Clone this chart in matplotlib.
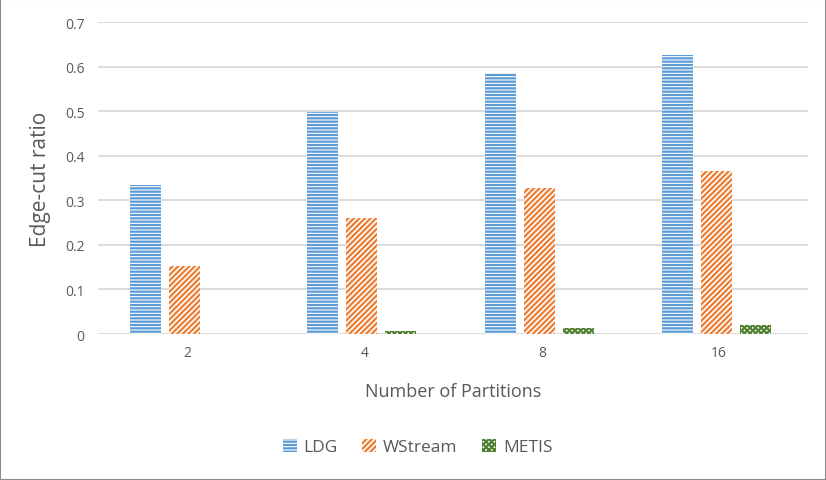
import numpy as np
import matplotlib.pyplot as plt

plt.rcParams['font.family'] = ['Open Sans', 'DejaVu Sans']
plt.rcParams['hatch.linewidth'] = 1.6

partitions = ['2', '4', '8', '16']
ldg = [0.334, 0.498, 0.585, 0.627]
wstream = [0.153, 0.261, 0.328, 0.366]
metis = [0.001, 0.006, 0.013, 0.021]

series = [('LDG', ldg, '#5B9BD5', '-----'),
          ('WStream', wstream, '#ED7D31', '//////'),
          ('METIS', metis, '#548235', 'xxxxxx')]

fig = plt.figure(figsize=(8.26, 4.81), dpi=100)
ax = fig.add_axes([0.119, 0.3035, 0.859, 0.6485])

x = np.arange(len(partitions))
w = 0.175
step = 0.22
for i, (name, vals, col, hatch) in enumerate(series):
    ax.bar(x + (i - 1) * step - 0.015, vals, w, facecolor='white', edgecolor=col,
           hatch=hatch, linewidth=0, label=name)

ax.set_ylim(0, 0.7)
ax.set_xlim(-0.5, len(partitions) - 0.5)
ax.set_yticks(np.arange(0, 0.71, 0.1))
ax.set_yticklabels(['0'] + [f'{v:.1f}' for v in np.arange(0.1, 0.71, 0.1)])
ax.set_xticks(x)
ax.set_xticklabels(partitions)
ax.tick_params(length=0, colors='#595959', labelsize=10)
ax.tick_params(axis='y', pad=10)
ax.tick_params(axis='x', pad=8)
ax.grid(axis='y', color='#D9D9D9', linewidth=1.3)
ax.set_axisbelow(True)
for s in ax.spines.values():
    s.set_visible(False)

ax.set_xlabel('Number of Partitions', fontsize=13, color='#595959', labelpad=16)
ax.set_ylabel('Edge-cut ratio', fontsize=15, color='#595959', labelpad=10)

ax.legend(loc='upper center', bbox_to_anchor=(0.45, -0.285), ncol=3, frameon=False,
          fontsize=12.5, labelcolor='#595959', handlelength=0.8, handleheight=0.8,
          columnspacing=1.4, handletextpad=0.4)

fig.patches.append(plt.Rectangle((0, 0), 1, 1, transform=fig.transFigure,
                                 fill=False, edgecolor='#8C8C8C', linewidth=1.5))

fig.savefig('out.png', dpi=100)
